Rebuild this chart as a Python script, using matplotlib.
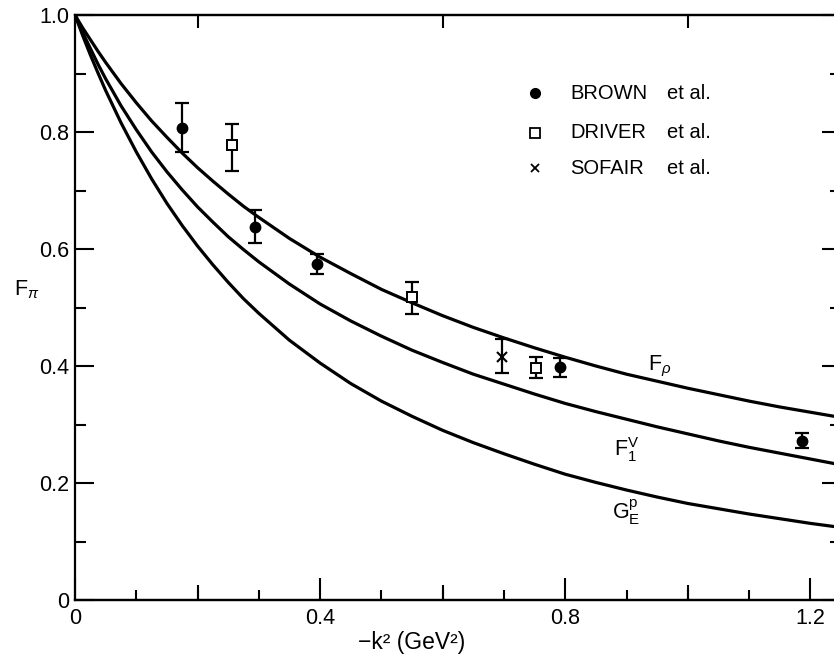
import matplotlib
matplotlib.use("Agg")
import matplotlib.pyplot as plt
import numpy as np

plt.rcParams['font.family'] = ['Liberation Sans', 'DejaVu Sans']
plt.rcParams['mathtext.fontset'] = 'custom'
plt.rcParams['mathtext.rm'] = 'Liberation Sans'
plt.rcParams['mathtext.it'] = 'Liberation Sans:italic'

# ---- curves ----
q2_curve = [0.0, 0.0125, 0.025, 0.0375, 0.05, 0.075, 0.1, 0.125, 0.15, 0.175, 0.2, 0.225, 0.25, 0.275, 0.3,
            0.35, 0.4, 0.45, 0.5, 0.55, 0.6, 0.65, 0.7, 0.75, 0.8, 0.85, 0.9, 0.95, 1.0, 1.05, 1.1, 1.15, 1.2, 1.25]
f_rho = [1.0, 0.978, 0.958, 0.938, 0.919, 0.883, 0.850, 0.819, 0.791, 0.764, 0.739, 0.716, 0.694, 0.673, 0.654,
         0.618, 0.586, 0.558, 0.531, 0.508, 0.486, 0.466, 0.448, 0.431, 0.415, 0.400, 0.386, 0.374, 0.362, 0.351, 0.340, 0.330, 0.321, 0.312]
f1_v = [1.0, 0.970, 0.943, 0.916, 0.891, 0.845, 0.804, 0.766, 0.732, 0.701, 0.672, 0.646, 0.621, 0.599, 0.578,
        0.540, 0.506, 0.477, 0.451, 0.427, 0.406, 0.386, 0.369, 0.352, 0.336, 0.322, 0.309, 0.296, 0.284, 0.272, 0.261, 0.251, 0.241, 0.231]
ge_p = [1.0, 0.965, 0.932, 0.901, 0.871, 0.816, 0.766, 0.720, 0.678, 0.640, 0.605, 0.573, 0.543, 0.515, 0.490,
        0.444, 0.405, 0.370, 0.340, 0.314, 0.290, 0.269, 0.250, 0.232, 0.215, 0.201, 0.188, 0.176, 0.165, 0.156, 0.147, 0.139, 0.131, 0.124]

# ---- data points ----
brown_x = [0.175, 0.293, 0.395, 0.791, 1.187]
brown_y = [0.806, 0.638, 0.574, 0.399, 0.272]
brown_lo = [0.765, 0.610, 0.558, 0.382, 0.259]
brown_hi = [0.850, 0.667, 0.591, 0.414, 0.285]

driver_x = [0.257, 0.550, 0.752]
driver_y = [0.777, 0.518, 0.397]
driver_lo = [0.733, 0.489, 0.379]
driver_hi = [0.814, 0.544, 0.416]

sofair_x = [0.696]
sofair_y = [0.416]
sofair_lo = [0.388]
sofair_hi = [0.447]

legend_labels = ['BROWN', 'DRIVER', 'SOFAIR']

fig = plt.figure(figsize=(8.34, 6.6), dpi=100)
ax = fig.add_axes([75/834, 60/660, (841-75)/834, 585/660])

lw = 2.3
for ys in (f_rho, f1_v, ge_p):
    ax.plot(q2_curve, ys, color='black', lw=lw, solid_capstyle='round', solid_joinstyle='round')

def eb(x, y, lo, hi, **kw):
    yerr = [np.array(y) - np.array(lo), np.array(hi) - np.array(y)]
    ax.errorbar(x, y, yerr=yerr, fmt='none', ecolor='black', elinewidth=1.6,
                capsize=5, capthick=1.6, zorder=3)
    ax.plot(x, y, linestyle='none', zorder=4, **kw)

eb(brown_x, brown_y, brown_lo, brown_hi, marker='o', ms=7.5, mfc='black', mec='black')
eb(driver_x, driver_y, driver_lo, driver_hi, marker='s', ms=7.5, mfc='white', mec='black', mew=1.4)
eb(sofair_x, sofair_y, sofair_lo, sofair_hi, marker='x', ms=7, mec='black', mew=1.5)

# legend (manual, as in the figure)
lx_m, lx_t, lx_e = 0.751, 0.808, 0.966
rows = [0.866, 0.799, 0.738]
ax.plot([lx_m], [rows[0]], marker='o', ms=7, color='black', linestyle='none')
ax.plot([lx_m], [rows[1]], marker='s', ms=6.5, mfc='white', mec='black', mew=1.3, linestyle='none')
ax.plot([lx_m], [rows[2]], marker='x', ms=6, mec='black', mew=1.3, linestyle='none')
for r, lab in zip(rows, legend_labels):
    ax.text(lx_t, r, lab, fontsize=14.5, va='center', ha='left')
    ax.text(lx_e, r, 'et al.', fontsize=14.5, va='center', ha='left')

# curve labels
ax.text(0.955, 0.400, r'$\mathrm{F}_{\rho}$', fontsize=15.5, ha='center', va='center')
ax.text(0.901, 0.258, r'$\mathrm{F}_{1}^{\mathrm{V}}$', fontsize=15.5, ha='center', va='center')
ax.text(0.899, 0.150, r'$\mathrm{G}_{\mathrm{E}}^{\mathrm{p}}$', fontsize=15.5, ha='center', va='center')

ax.set_xlim(0, 1.25)
ax.set_ylim(0, 1.0)

for s in ax.spines.values():
    s.set_linewidth(1.6)

ax.set_xticks([0, 0.4, 0.8, 1.2])
ax.set_xticklabels(['0', '0.4', '0.8', '1.2'])
ax.set_xticks([0.1, 0.2, 0.3, 0.5, 0.6, 0.7, 0.9, 1.0, 1.1], minor=True)
ax.set_yticks([0, 0.2, 0.4, 0.6, 0.8, 1.0])
ax.set_yticklabels(['0', '0.2', '0.4', '0.6', '0.8', '1.0'])
ax.set_yticks([0.1, 0.3, 0.5, 0.7, 0.9], minor=True)

ax.tick_params(axis='x', which='major', direction='in', length=16, width=1.5,
               labelsize=15.5, pad=6, top=False)
ax.tick_params(axis='x', which='minor', direction='in', length=7, width=1.5, top=False)
ax.tick_params(axis='y', which='major', direction='in', length=14, width=1.5,
               labelsize=15.5, pad=4, right=True)
ax.tick_params(axis='y', which='minor', direction='in', length=8, width=1.5, right=True)

# intermediate-length ticks at 0.2, 0.6, 1.0 (bottom) and top ticks
sec = ax.secondary_xaxis('bottom')
sec.set_xticks([0.2, 0.6, 1.0])
sec.set_xticklabels([])
sec.tick_params(direction='in', length=10.5, width=1.5)
sec.spines['bottom'].set_linewidth(1.6)
top = ax.secondary_xaxis('top')
top.set_xticks([0.2, 0.6, 1.0])
top.set_xticklabels([])
top.tick_params(direction='in', length=9.5, width=1.5)
top.spines['top'].set_linewidth(1.6)

ax.text(0.44, -0.0735, '−k² (GeV²)', transform=ax.transAxes, fontsize=16.5,
        ha='center', va='center')
ax.text(-0.063, 0.53, r'$\mathrm{F}_{\pi}$', transform=ax.transAxes, fontsize=15.5,
        ha='center', va='center')

fig.savefig('out.png', dpi=100)
